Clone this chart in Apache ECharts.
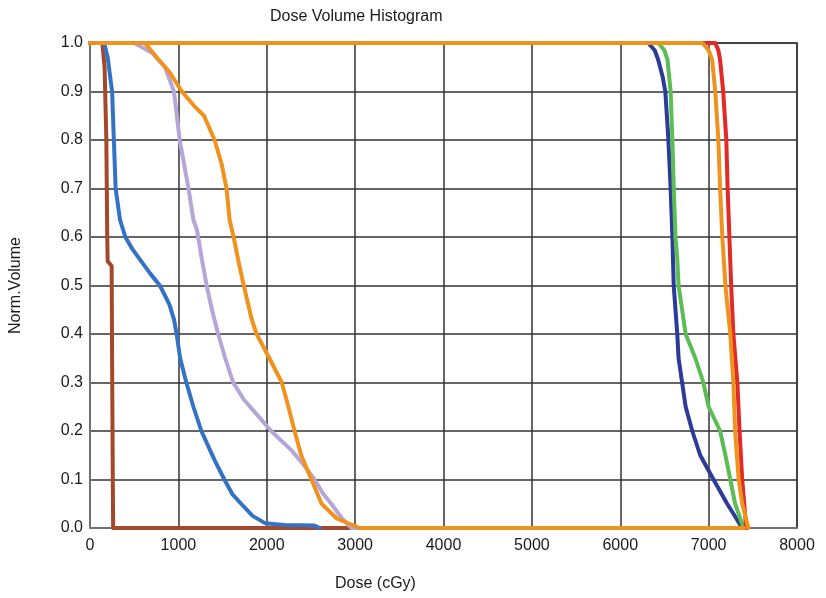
<!DOCTYPE html>
<html>
<head>
<meta charset="utf-8">
<script src="https://cdn.jsdelivr.net/npm/echarts@6/dist/echarts.min.js"></script>
<style>
  html, body { margin: 0; padding: 0; background: #fff; }
  #chart { width: 826px; height: 598px; }
</style>
</head>
<body>
<div id="chart"></div>
<script>
// dose (cGy), normalized volume
var brownCurve = [[0,1],[140,1],[165,0.95],[185,0.8],[195,0.6],[200,0.55],[245,0.54],[250,0.35],[258,0.1],[262,0],[3200,0]];
var blueCurve = [[0,1],[160,1],[200,0.97],[250,0.9],[270,0.8],[290,0.7],[340,0.635],[400,0.6],[480,0.575],[560,0.555],[680,0.525],[790,0.5],[860,0.475],[900,0.46],[950,0.43],[980,0.4],[1020,0.35],[1090,0.3],[1170,0.25],[1260,0.2],[1410,0.14],[1520,0.1],[1610,0.07],[1710,0.05],[1840,0.025],[1980,0.01],[2200,0.006],[2540,0.005],[2600,0]];
var lavenderCurve = [[0,1],[500,1],[700,0.98],[850,0.95],[950,0.9],[1015,0.8],[1115,0.7],[1170,0.635],[1210,0.615],[1260,0.56],[1320,0.5],[1380,0.45],[1450,0.4],[1530,0.35],[1620,0.3],[1740,0.265],[1860,0.24],[2050,0.2],[2280,0.16],[2420,0.13],[2540,0.1],[2640,0.07],[2730,0.05],[2850,0.02],[2960,0],[3100,0]];
var orangeLeftCurve = [[0,1],[620,1],[780,0.965],[900,0.94],[1040,0.9],[1180,0.87],[1290,0.85],[1410,0.8],[1490,0.75],[1545,0.7],[1580,0.635],[1625,0.6],[1680,0.55],[1740,0.5],[1830,0.43],[1885,0.4],[2030,0.35],[2170,0.3],[2245,0.25],[2315,0.2],[2390,0.15],[2505,0.1],[2620,0.05],[2790,0.02],[3050,0],[7400,0]];
var navyCurve = [[0,1],[6316,1],[6390,0.985],[6430,0.965],[6480,0.93],[6510,0.9],[6545,0.8],[6570,0.7],[6590,0.6],[6605,0.5],[6645,0.4],[6660,0.35],[6700,0.3],[6740,0.25],[6815,0.2],[6905,0.15],[7055,0.1],[7210,0.05],[7380,0]];
var greenCurve = [[0,1],[6430,1],[6500,0.985],[6535,0.965],[6570,0.9],[6590,0.8],[6605,0.7],[6625,0.6],[6645,0.555],[6660,0.5],[6700,0.45],[6740,0.4],[6850,0.35],[6940,0.3],[7000,0.25],[7130,0.2],[7190,0.15],[7245,0.1],[7300,0.05],[7395,0]];
var redCurve = [[0,1],[7075,1],[7110,0.985],[7130,0.965],[7165,0.9],[7200,0.8],[7215,0.7],[7235,0.6],[7255,0.5],[7280,0.4],[7325,0.3],[7350,0.2],[7380,0.1],[7425,0]];
var orangeRightCurve = [[0,1],[6930,1],[7000,0.985],[7040,0.965],[7075,0.9],[7110,0.8],[7130,0.7],[7155,0.6],[7190,0.5],[7245,0.4],[7280,0.3],[7300,0.2],[7340,0.1],[7380,0.05],[7450,0]];

function line(name, data, color) {
    return {
        name: name,
        type: 'line',
        data: data,
        showSymbol: false,
        smooth: false,
        lineStyle: { color: color, width: 4, join: 'round', cap: 'round' },
        itemStyle: { color: color },
        z: 3
    };
}

var myChart = echarts.init(document.getElementById('chart'));
var option = {
    backgroundColor: '#fff',
    animation: false,
    textStyle: { fontFamily: 'Liberation Sans' },
    title: {
        text: 'Dose Volume Histogram',
        left: 265,
        top: 4,
        textStyle: { fontSize: 16, fontWeight: 'normal', color: '#1a1a1a', fontFamily: 'Liberation Sans' }
    },
    grid: {
        left: 88,
        right: 29,
        top: 43,
        bottom: 70,
        show: true,
        borderColor: '#444',
        borderWidth: 1.5
    },
    xAxis: {
        type: 'value',
        min: 0,
        max: 8000,
        interval: 1000,
        name: 'Dose (cGy)',
        nameLocation: 'middle',
        nameGap: 48,
        nameTextStyle: { fontSize: 16, color: '#1a1a1a', padding: [0, 136, 0, 0] },
        axisLine: { show: true, lineStyle: { color: '#808080', width: 1.5 } },
        axisTick: { show: false },
        axisLabel: {
            fontSize: 16, color: '#1a1a1a', margin: 10,
            formatter: function (v) { return String(v); }
        },
        splitLine: { show: true, lineStyle: { color: '#333', width: 1.5 } }
    },
    yAxis: {
        type: 'value',
        min: 0,
        max: 1,
        interval: 0.1,
        name: 'Norm.Volume',
        nameLocation: 'middle',
        nameGap: 66,
        nameTextStyle: { fontSize: 16, color: '#1a1a1a' },
        axisLine: { show: true, lineStyle: { color: '#808080', width: 1.5 } },
        axisTick: { show: false },
        axisLabel: {
            fontSize: 16, color: '#1a1a1a', margin: 7, padding: [0, 0, 8, 0],
            formatter: function (v) { return v.toFixed(1); }
        },
        splitLine: { show: true, lineStyle: { color: '#333', width: 1.5 } }
    },
    series: [
        line('brown', brownCurve, '#a4482c'),
        line('blue', blueCurve, '#3473c4'),
        line('lavender', lavenderCurve, '#b5a6d9'),
        line('navy', navyCurve, '#2c3a98'),
        line('green', greenCurve, '#5cbd55'),
        line('red', redCurve, '#e22a26'),
        line('orangeLeft', orangeLeftCurve, '#f0931e'),
        line('orangeRight', orangeRightCurve, '#f0931e')
    ]
};
myChart.setOption(option);
</script>
</body>
</html>
